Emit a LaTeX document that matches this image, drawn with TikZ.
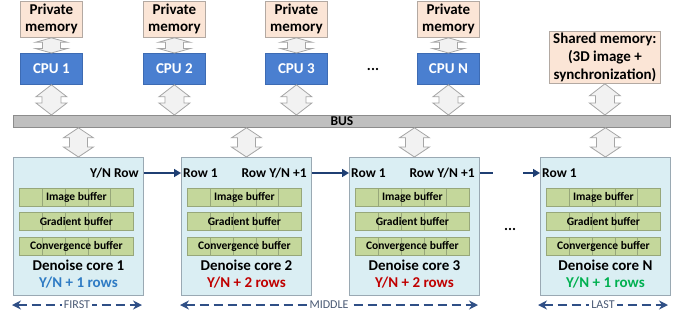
\documentclass[tikz,border=0pt]{standalone}
\usepackage{fontspec}
\setmainfont{Carlito}
\usetikzlibrary{arrows.meta,calc}
\definecolor{memfill}{HTML}{FBE5D6}
\definecolor{memborder}{HTML}{B3A9A2}
\definecolor{cpufill}{HTML}{4A7FD0}
\definecolor{cpuborder}{HTML}{3D6BB3}
\definecolor{corefill}{HTML}{DAEEF3}
\definecolor{coreborder}{HTML}{9AA9B3}
\definecolor{buffill}{HTML}{C4D79B}
\definecolor{bufborder}{HTML}{97A77A}
\definecolor{busfill}{HTML}{BFBFBF}
\definecolor{busborder}{HTML}{8C8C8C}
\definecolor{bafill}{HTML}{F2F2F2}
\definecolor{baborder}{HTML}{A6A6A6}
\definecolor{rowcol}{HTML}{1F3F73}
\definecolor{dashcol}{HTML}{2F4F86}
\definecolor{lblcol}{HTML}{4A5A75}
\definecolor{bluetxt}{HTML}{2E7BC4}
\definecolor{redtxt}{HTML}{C00000}
\definecolor{greentxt}{HTML}{00B050}
\newcommand\memfont{\fontsize{15}{17}\selectfont\bfseries}
% #1 top point name, #2 bottom point name, #3 shaft half width, #4 head half width, #5 head length
\newcommand\blockarr[5]{%
  \path (#1) coordinate (ba@t) (#2) coordinate (ba@b);
  \draw[blockarrow] let \p1=(ba@t), \p2=(ba@b) in
    (\x1,\y1) -- (\x1+#4,\y1-#5) -- (\x1+#3,\y1-#5) -- (\x1+#3,\y2+#5) -- (\x1+#4,\y2+#5)
    -- (\x1,\y2) -- (\x1-#4,\y2+#5) -- (\x1-#3,\y2+#5) -- (\x1-#3,\y1-#5) -- (\x1-#4,\y1-#5) -- cycle;}
\newcommand\corebox[5]{%
  \node[corebx] (#1) at (#2,157) {};
  \node[bufbx] (#1img) at ($(#1.north west)+(6,31)$) {Image buffer};
  \node[bufbx] (#1grad) at ($(#1.north west)+(6,55)$) {Gradient buffer};
  \node[bufbx] (#1conv) at ($(#1.north west)+(6,80)$) {Convergence buffer};
  \node[titletxt] (#1title) at ($(#1.north)+(0,108)$) {#3};
  \node[titletxt, text=#5] (#1rows) at ($(#1.north)+(0,126)$) {#4};}
\begin{document}
\begin{tikzpicture}[x=1pt,y=-1pt,
  pmem/.style={draw=memborder, fill=memfill, line width=0.8pt, minimum width=62pt, minimum height=36pt,
    inner sep=0pt, align=center, anchor=north west, font=\memfont},
  cpubx/.style={draw=cpuborder, fill=cpufill, line width=0.8pt, text=white, minimum width=62pt, minimum height=31pt,
    inner sep=0pt, anchor=north west, font=\fontsize{15}{18}\selectfont\bfseries},
  corebx/.style={draw=coreborder, fill=corefill, line width=0.9pt, minimum width=130pt, minimum height=138pt,
    inner sep=0pt, anchor=north west},
  bufbx/.style={draw=bufborder, fill=buffill, line width=0.8pt, minimum width=114pt, minimum height=18pt,
    inner sep=0pt, anchor=north west, font=\fontsize{11.5}{13}\selectfont\bfseries,
    path picture={\foreach \i in {1,2,3,4}{\draw[bufborder, line width=0.6pt]
      ($(path picture bounding box.south west)!\i/5!(path picture bounding box.south east)$) --
      ($(path picture bounding box.north west)!\i/5!(path picture bounding box.north east)$);}}},
  titletxt/.style={font=\fontsize{15}{18}\selectfont\bfseries, inner sep=0pt},
  rowtxt/.style={font=\fontsize{13.5}{16}\selectfont\bfseries, inner sep=0pt},
  blockarrow/.style={draw=baborder, fill=bafill, line width=0.8pt, line join=miter},
  rowarr/.style={draw=rowcol, line width=1.6pt, -{Triangle[length=7pt,width=8pt]}},
  dasharr/.style={draw=dashcol, line width=1.5pt, dash pattern=on 9pt off 5pt,
    {Stealth[length=9pt,width=9pt]}-{Stealth[length=9pt,width=9pt]}},
  lbl/.style={fill=white, text=lblcol, inner sep=2pt, font=\fontsize{12}{14}\selectfont},
  dots/.style={font=\fontsize{15}{18}\selectfont\bfseries, inner sep=0pt}]
\useasboundingbox (0,0) rectangle (692,322);
% private memories
\node[pmem] (pm1) at (20,1) {\memfont Private\\\memfont memory};
\node[pmem] (pm2) at (143,1) {\memfont Private\\\memfont memory};
\node[pmem] (pm3) at (265,1) {\memfont Private\\\memfont memory};
\node[pmem] (pmN) at (417,1) {\memfont Private\\\memfont memory};
% CPUs
\node[cpubx] (cpu1) at (20,53) {CPU 1};
\node[cpubx] (cpu2) at (143,53) {CPU 2};
\node[cpubx] (cpu3) at (265,53) {CPU 3};
\node[cpubx] (cpuN) at (417,53) {CPU N};
\node[dots] (cpudots) at (373,69) {...};
% shared memory
\node[pmem, minimum width=111pt, minimum height=52pt, font=\fontsize{15}{18}\selectfont\bfseries] (shm) at (549,31)
  {Shared memory:\\(3D image +\\synchronization)};
% bus
\node[draw=busborder, fill=busfill, line width=0.8pt, minimum width=657pt, minimum height=12pt, inner sep=0pt,
  anchor=north west] (bus) at (13,115) {};
\node[font=\fontsize{13.5}{14}\selectfont\bfseries, inner sep=0pt] (bustxt) at (bus.center) {BUS};
% block arrows memory-cpu and cpu-bus
\coordinate (b1) at (cpu1.south |- bus.north);
\coordinate (b2) at (cpu2.south |- bus.north);
\coordinate (b3) at (cpu3.south |- bus.north);
\coordinate (bN) at (cpuN.south |- bus.north);
\coordinate (bS) at (shm.south |- bus.north);
\blockarr{pm1.south}{cpu1.north}{9pt}{16pt}{4.5pt}
\blockarr{pm2.south}{cpu2.north}{9pt}{16pt}{4.5pt}
\blockarr{pm3.south}{cpu3.north}{9pt}{16pt}{4.5pt}
\blockarr{pmN.south}{cpuN.north}{9pt}{16pt}{4.5pt}
\blockarr{cpu1.south}{b1}{9.5pt}{15.5pt}{12pt}
\blockarr{cpu2.south}{b2}{9.5pt}{15.5pt}{12pt}
\blockarr{cpu3.south}{b3}{9.5pt}{15.5pt}{12pt}
\blockarr{cpuN.south}{bN}{9.5pt}{15.5pt}{12pt}
\blockarr{shm.south}{bS}{9.5pt}{15.5pt}{12pt}
% cores
\corebox{c1}{13}{Denoise core 1}{Y/N + 1 rows}{bluetxt}
\corebox{c2}{181}{Denoise core 2}{Y/N + 2 rows}{redtxt}
\corebox{c3}{349}{Denoise core 3}{Y/N + 2 rows}{redtxt}
\corebox{cN}{540}{Denoise core N}{Y/N + 1 rows}{greentxt}
\node[dots] (coredots) at (510,229) {...};
\coordinate (t1) at (bus.south -| c1.north);
\coordinate (t2) at (bus.south -| c2.north);
\coordinate (t3) at (bus.south -| c3.north);
\coordinate (tN) at (bus.south -| cN.north);
\blockarr{t1}{c1.north}{9pt}{15pt}{10pt}
\blockarr{t2}{c2.north}{9pt}{15pt}{10pt}
\blockarr{t3}{c3.north}{9pt}{15pt}{10pt}
\blockarr{tN}{cN.north}{9pt}{15pt}{10pt}
% row labels
\node[rowtxt, anchor=east] (c1rr) at ($(c1.north east)+(-5,16)$) {Y/N Row};
\node[rowtxt, anchor=west] (c2rl) at ($(c2.north west)+(2,16)$) {Row 1};
\node[rowtxt, anchor=east] (c2rr) at ($(c2.north east)+(-5,16)$) {Row Y/N +1};
\node[rowtxt, anchor=west] (c3rl) at ($(c3.north west)+(2,16)$) {Row 1};
\node[rowtxt, anchor=east] (c3rr) at ($(c3.north east)+(-5,16)$) {Row Y/N +1};
\node[rowtxt, anchor=west] (cNrl) at ($(cN.north west)+(2,16)$) {Row 1};
\draw[rowarr] (c1.east |- c1rr.center) -- (c2.west |- c1rr.center);
\draw[rowarr] (c2.east |- c2rr.center) -- (c3.west |- c2rr.center);
\coordinate (stubA) at (493,173);
\coordinate (stubB) at (523,173);
\draw[draw=rowcol, line width=1.6pt] (c3.east |- c3rr.center) -- (stubA);
\draw[rowarr] (stubB) -- (cN.west |- cNrl.center);
% bottom ranges
\coordinate (f1) at (12,305); \coordinate (f2) at (142,305);
\coordinate (m1) at (180,305); \coordinate (m2) at (478,305);
\coordinate (l1) at (538,305); \coordinate (l2) at (668,305);
\draw[dasharr] (f1) -- (f2);
\draw[dasharr] (m1) -- (m2);
\draw[dasharr] (l1) -- (l2);
\node[lbl] (first) at ($(f1)!0.5!(f2)$) {FIRST};
\node[lbl] (middle) at ($(m1)!0.5!(m2)$) {MIDDLE};
\node[lbl] (last) at ($(l1)!0.5!(l2)$) {LAST};
\end{tikzpicture}
\end{document}
